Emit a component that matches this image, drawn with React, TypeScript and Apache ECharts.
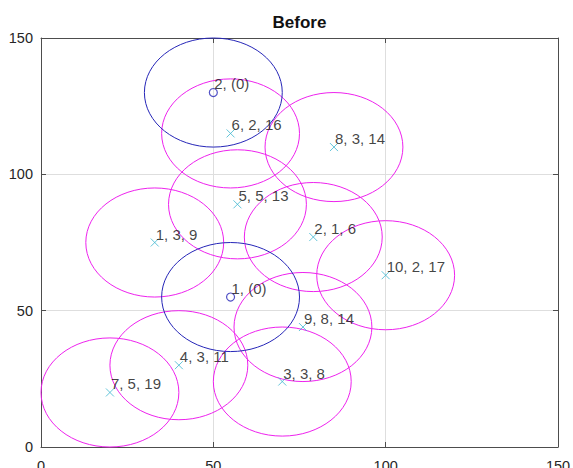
import React, { useEffect, useRef } from "react";
import * as echarts from "echarts";

const sensorX = [33, 79, 70, 40, 57, 55, 20, 85, 76, 100];
const sensorY = [75, 77, 24, 30, 89, 115, 20, 110, 44, 63];
const sensorLabels = ["1, 3, 9", "2, 1, 6", "3, 3, 8", "4, 3, 11", "5, 5, 13", "6, 2, 16", "7, 5, 19", "8, 3, 14", "9, 8, 14", "10, 2, 17"];
const headX = [55, 50];
const headY = [55, 130];
const headLabels = ["1, (0)", "2, (0)"];
const radius = 20;
const axisTicks = [0, 50, 100, 150];
const titleText = "Before";

const FONT = "'Liberation Sans', Arial, Helvetica, sans-serif";
const MAGENTA = "#ee22ee";
const BLUE = "#2626b8";
const CYAN = "#3fb6cf";

export default function App() {
  const ref = useRef<HTMLDivElement>(null);
  useEffect(() => {
    if (!ref.current) return;
    const chart = echarts.init(ref.current, undefined, { renderer: "svg" });
    const circleRender = (color: string) => (params: any, api: any) => {
      const c = api.coord([api.value(0), api.value(1)]);
      const s = api.size([radius, radius]);
      return {
        type: "ellipse",
        shape: { cx: c[0], cy: c[1], rx: s[0], ry: s[1] },
        style: { fill: "none", stroke: color, lineWidth: 1 },
      };
    };
    const labelStyle = {
      show: true,
      position: [5.5, -4],
      align: "left",
      verticalAlign: "middle",
      fontFamily: FONT,
      fontSize: 15,
      color: "#111111",
    };
    const mainAxis = (pos: string) => ({
      type: "value",
      position: pos,
      min: axisTicks[0],
      max: axisTicks[axisTicks.length - 1],
      interval: 50,
      axisLine: { show: true, lineStyle: { color: "#4d4d4d", width: 1 } },
      axisTick: { show: true, inside: true, length: 5, lineStyle: { color: "#4d4d4d" } },
      axisLabel: { show: true, color: "#262626", fontFamily: FONT, fontSize: 14.5, margin: pos === "left" ? 8 : 11 },
      splitLine: { show: true, lineStyle: { color: "#dedede", width: 1 } },
    });
    const boxAxis = (pos: string) => ({
      type: "value",
      position: pos,
      min: axisTicks[0],
      max: axisTicks[axisTicks.length - 1],
      interval: 50,
      axisLine: { show: true, onZero: false, lineStyle: { color: "#4d4d4d", width: 1 } },
      axisTick: { show: true, inside: true, length: 5, lineStyle: { color: "#4d4d4d" } },
      axisLabel: { show: false },
      splitLine: { show: false },
    });
    chart.setOption({
      animation: false,
      backgroundColor: "#ffffff",
      grid: { left: 41, right: 15, top: 38, bottom: 21, containLabel: false, outerBoundsMode: "none" },
      xAxis: [mainAxis("bottom"), boxAxis("top")],
      yAxis: [mainAxis("left"), boxAxis("right")],
      graphic: [
        {
          type: "text",
          x: 299.5,
          y: 22.5,
          style: { text: titleText, align: "center", verticalAlign: "middle", font: `bold 17px ${FONT}`, fill: "#111" },
        },
      ],
      series: [
        {
          type: "custom",
          name: "sensor ranges",
          xAxisIndex: 0,
          yAxisIndex: 0,
          data: sensorX.map((x, i) => [x, sensorY[i]]),
          encode: { x: 0, y: 1 },
          renderItem: circleRender(MAGENTA),
          z: 2,
          silent: true,
        },
        {
          type: "custom",
          name: "head ranges",
          xAxisIndex: 0,
          yAxisIndex: 0,
          data: headX.map((x, i) => [x, headY[i]]),
          encode: { x: 0, y: 1 },
          renderItem: circleRender(BLUE),
          z: 2,
          silent: true,
        },
        {
          type: "scatter",
          name: "sensors",
          data: sensorX.map((x, i) => ({ value: [x, sensorY[i]], label: { formatter: sensorLabels[i] } })),
          symbol: "path://M0,0L10,10M10,0L0,10",
          symbolSize: 8,
          itemStyle: { color: "transparent", borderColor: CYAN, borderWidth: 1 },
          label: labelStyle,
          z: 5,
        },
        {
          type: "scatter",
          name: "heads",
          data: headX.map((x, i) => ({ value: [x, headY[i]], label: { formatter: headLabels[i] } })),
          symbol: "circle",
          symbolSize: 8,
          itemStyle: { color: "transparent", borderColor: BLUE, borderWidth: 1.2 },
          label: labelStyle,
          z: 5,
        },
      ],
    });
    return () => chart.dispose();
  }, []);
  return <div ref={ref} style={{ width: 573, height: 468, position: "absolute", left: 0, top: 0 }} />;
}
